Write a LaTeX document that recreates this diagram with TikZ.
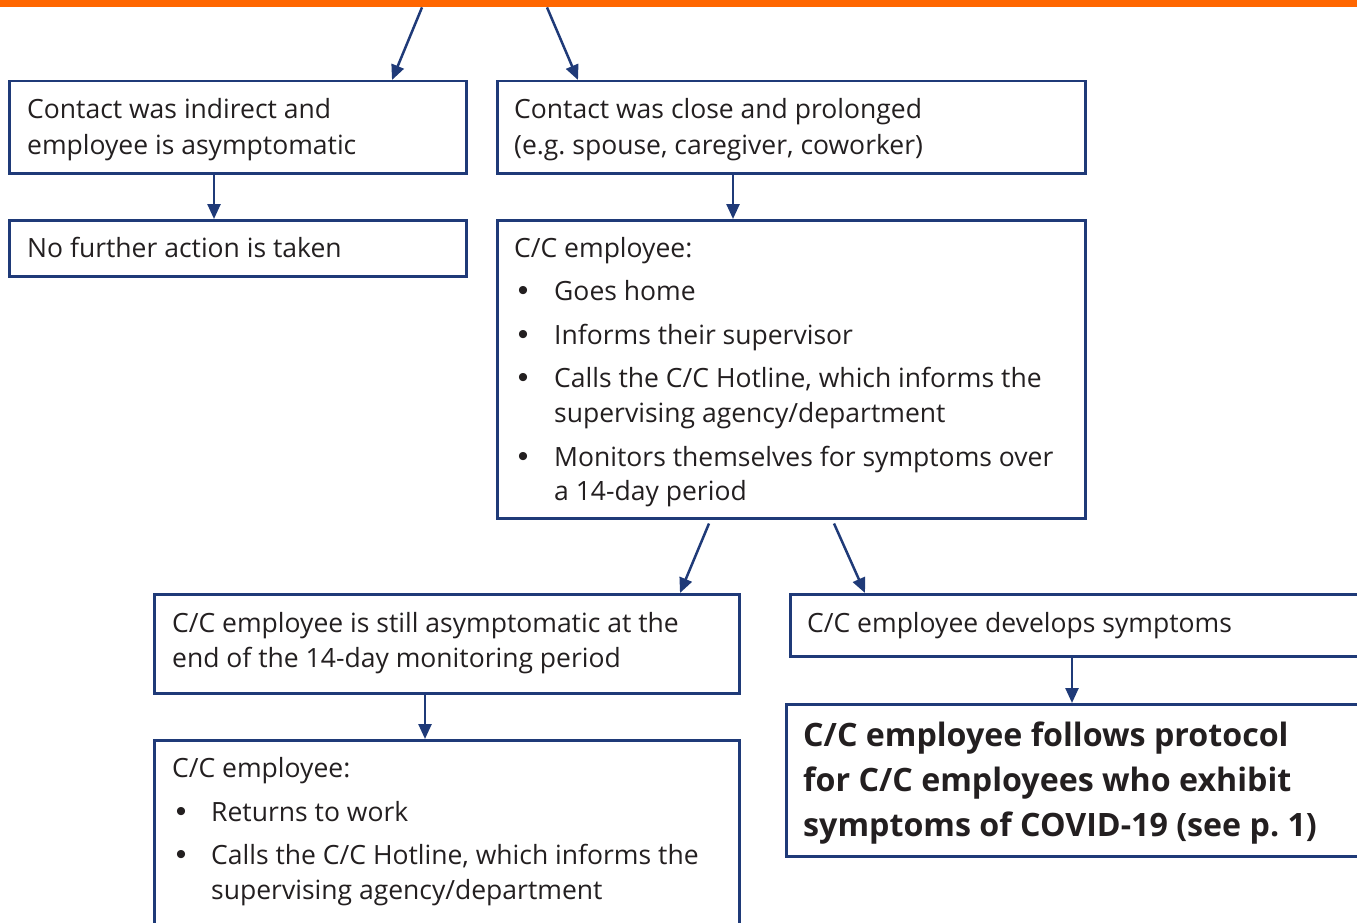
\documentclass[tikz,border=0pt]{standalone}
\usepackage{fontspec}
\setmainfont{Open Sans}
\newfontfamily\bulfont{Liberation Sans}
\usetikzlibrary{arrows.meta}
\definecolor{navy}{HTML}{1F3A78}
\definecolor{orangebar}{HTML}{FF6600}
\definecolor{ink}{HTML}{231F20}
\tikzset{
  box/.style={draw=navy, line width=2.5pt, inner sep=0pt, anchor=north west, rectangle},
  arr/.style={draw=navy, line width=2.5pt, -{Triangle[length=15pt,width=13pt]}},
  txt/.style={anchor=base west, inner sep=0pt, text=ink, font=\fontsize{26.5}{35}\selectfont},
  bul/.style={anchor=base, inner sep=0pt, text=ink, font=\bulfont\fontsize{30}{35}\selectfont},
  btxt/.style={anchor=base west, inner sep=0pt, text=ink, font=\fontsize{32.2}{45}\selectfont\bfseries},
}
\begin{document}
\begin{tikzpicture}[x=1pt,y=-1pt]
\useasboundingbox (0,0) rectangle (1357,923);
\clip (0,0) rectangle (1357,923);
% top bar
\node[fill=orangebar, inner sep=0pt, minimum width=1357pt, minimum height=7pt, anchor=north west] (bar) at (0,0) {};
% boxes
\node[box, minimum width=457pt, minimum height=92pt] (A) at (8,80) {};
\node[box, minimum width=588pt, minimum height=92pt] (B) at (496,80) {};
\node[box, minimum width=457pt, minimum height=56pt] (C) at (8,219) {};
\node[box, minimum width=588pt, minimum height=298pt] (D) at (496,219) {};
\node[box, minimum width=585pt, minimum height=99pt] (E) at (153,593) {};
\node[box, minimum width=590pt, minimum height=62pt] (F) at (789,593) {};
\node[box, minimum width=590pt, minimum height=152pt] (G) at (785,703) {};
\node[box, minimum width=585pt, minimum height=220pt] (H) at (153,739) {};
% arrows
\draw[arr] ([xshift=422pt]bar.south west) -- ([xshift=384pt]A.north west);
\draw[arr] ([xshift=547pt]bar.south west) -- ([xshift=82pt]B.north west);
\draw[arr] ([xshift=206pt]A.south west) -- ([xshift=206pt]C.north west);
\draw[arr] ([xshift=237pt]B.south west) -- ([xshift=237pt]D.north west);
\draw[arr] ([xshift=213pt,yshift=-4pt]D.south west) -- ([xshift=527pt]E.north west);
\draw[arr] ([xshift=338pt,yshift=-4pt]D.south west) -- ([xshift=76pt]F.north west);
\draw[arr] ([xshift=283pt]F.south west) -- ([xshift=287pt]G.north west);
\draw[arr] ([xshift=272pt]E.south west) -- ([xshift=272pt]H.north west);
% texts
\node[txt] (a1) at (27,119) {Contact was indirect and};
\node[txt] (a2) at (27,154) {employee is asymptomatic};
\node[txt] (b1) at (514,119) {Contact was close and prolonged};
\node[txt] (b2) at (514,154) {(e.g.\ spouse, caregiver, coworker)};
\node[txt] (c1) at (27,257) {No further action is taken};
\node[txt] (d0) at (514,257) {C/C employee:};
\node[bul] (db1) at (523,300) {•};
\node[txt] (d1) at (554,300) {Goes home};
\node[bul] (db2) at (523,344) {•};
\node[txt] (d2) at (554,344) {Informs their supervisor};
\node[bul] (db3) at (523,387) {•};
\node[txt] (d3) at (554,387) {Calls the C/C Hotline, which informs the};
\node[txt] (d3b) at (554,422) {supervising agency/department};
\node[bul] (db4) at (523,466) {•};
\node[txt] (d4) at (554,466) {Monitors themselves for symptoms over};
\node[txt] (d4b) at (554,500) {a 14-day period};
\node[txt] (e1) at (172,632) {C/C employee is still asymptomatic at the};
\node[txt] (e2) at (172,667) {end of the 14-day monitoring period};
\node[txt] (f1) at (807,632) {C/C employee develops symptoms};
\node[btxt] (g1) at (803,746) {C/C employee follows protocol};
\node[btxt] (g2) at (803,791) {for C/C employees who exhibit};
\node[btxt] (g3) at (803,836) {symptoms of COVID-19 (see p.\ 1)};
\node[txt] (h0) at (172,777) {C/C employee:};
\node[bul] (hb1) at (181,821) {•};
\node[txt] (h1) at (211,821) {Returns to work};
\node[bul] (hb2) at (181,864) {•};
\node[txt] (h2) at (211,864) {Calls the C/C Hotline, which informs the};
\node[txt] (h2b) at (211,899) {supervising agency/department};
\end{tikzpicture}
\end{document}
